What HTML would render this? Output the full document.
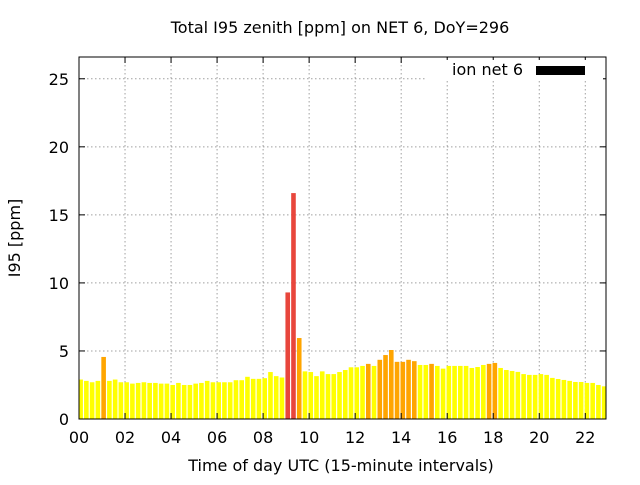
<!DOCTYPE html>
<html><head><meta charset="utf-8"><style>
body{margin:0;background:#fff;}
svg text{font-family:"DejaVu Sans","Liberation Sans",sans-serif;font-size:16px;fill:#000;}
</style></head><body>
<svg id="chart" width="640" height="480" viewBox="0 0 640 480" xmlns="http://www.w3.org/2000/svg">
<rect width="640" height="480" fill="#fff"/>
<text x="340" y="33" text-anchor="middle">Total I95 zenith [ppm] on NET 6, DoY=296</text>
<text x="341" y="471" text-anchor="middle">Time of day UTC (15-minute intervals)</text>
<text transform="translate(20,238) rotate(-90)" text-anchor="middle">I95 [ppm]</text>
<g id="grid"></g>
<g id="bars"></g>
<g id="axes"></g>
<rect x="427" y="60" width="176" height="20" fill="#fff"/>
<text x="523" y="75" text-anchor="end">ion net 6</text>
<rect x="536" y="66" width="49" height="9" fill="#000"/>
</svg>
<script>
const values=[2.9,2.8,2.7,2.8,4.56,2.8,2.9,2.7,2.7,2.6,2.65,2.7,2.65,2.65,2.6,2.6,2.5,2.65,2.5,2.5,2.6,2.65,2.8,2.7,2.7,2.7,2.7,2.85,2.85,3.1,2.95,2.95,3.0,3.45,3.15,3.05,9.3,16.6,5.95,3.5,3.45,3.15,3.5,3.3,3.3,3.45,3.6,3.8,3.8,3.9,4.05,3.9,4.35,4.7,5.07,4.2,4.2,4.35,4.25,3.97,3.97,4.05,3.9,3.7,3.9,3.9,3.9,3.9,3.75,3.82,3.97,4.05,4.12,3.75,3.6,3.53,3.46,3.3,3.24,3.24,3.3,3.24,3.02,2.94,2.87,2.8,2.72,2.72,2.65,2.65,2.5,2.4];
const xTicks=[0,2,4,6,8,10,12,14,16,18,20,22];
const xTickLabels=["00","02","04","06","08","10","12","14","16","18","20","22"];
const yTicks=[0,5,10,15,20,25];
const L=79,R=606,T=57,B=419;
const xMin=0,xMax=22.9,yMin=0,yMax=26.6;
const NS="http://www.w3.org/2000/svg";
function X(h){return L+(h-xMin)/(xMax-xMin)*(R-L);}
function Y(v){return B-(v-yMin)/(yMax-yMin)*(B-T);}
function mk(t,a,p){const e=document.createElementNS(NS,t);for(const k in a)e.setAttribute(k,a[k]);p.appendChild(e);return e;}
const grid=document.getElementById('grid'),bars=document.getElementById('bars'),axes=document.getElementById('axes');
yTicks.forEach(v=>{
  if(v>0){const g=mk('line',{x1:L,x2:R,y1:Y(v),y2:Y(v),stroke:'#a0a0a0','stroke-dasharray':'1.5,2.5'},grid);
  
  }
  const t=mk('text',{x:L-10,y:Y(v)+6,'text-anchor':'end'},axes);t.textContent=v;
  
  
  mk('line',{x1:L,x2:L+6,y1:Y(v),y2:Y(v),stroke:'#000'},axes);
  mk('line',{x1:R,x2:R-6,y1:Y(v),y2:Y(v),stroke:'#000'},axes);
});
xTicks.forEach((h,i)=>{
  if(h>0){const g=mk('line',{x1:X(h),x2:X(h),y1:T,y2:B,stroke:'#a0a0a0','stroke-dasharray':'1.5,2.5'},grid);
  
  }
  const t=mk('text',{x:X(h),y:B+24,'text-anchor':'middle'},axes);t.textContent=xTickLabels[i];
  
  
  mk('line',{x1:X(h),x2:X(h),y1:B,y2:B-6,stroke:'#000'},axes);
  mk('line',{x1:X(h),x2:X(h),y1:T,y2:T+6,stroke:'#000'},axes);
});
const bw=4.6;
values.forEach((v,i)=>{
  const h=i*0.25+0.07;let x0=X(h)-bw/2,x1=X(h)+bw/2;
  x0=Math.max(x0,L);x1=Math.min(x1,R);
  if(x1<=x0)return;
  const col=v>=8?'#e8463c':(v>=4?'#ffa500':'#ffff00');
  const r=mk('rect',{x:x0,y:Y(v),width:x1-x0,height:B-Y(v),fill:col},bars);
  
  
});
const f=mk('rect',{x:L,y:T,width:R-L,height:B-T,fill:'none',stroke:'#000','stroke-width':1},axes);


</script>
</body></html>
